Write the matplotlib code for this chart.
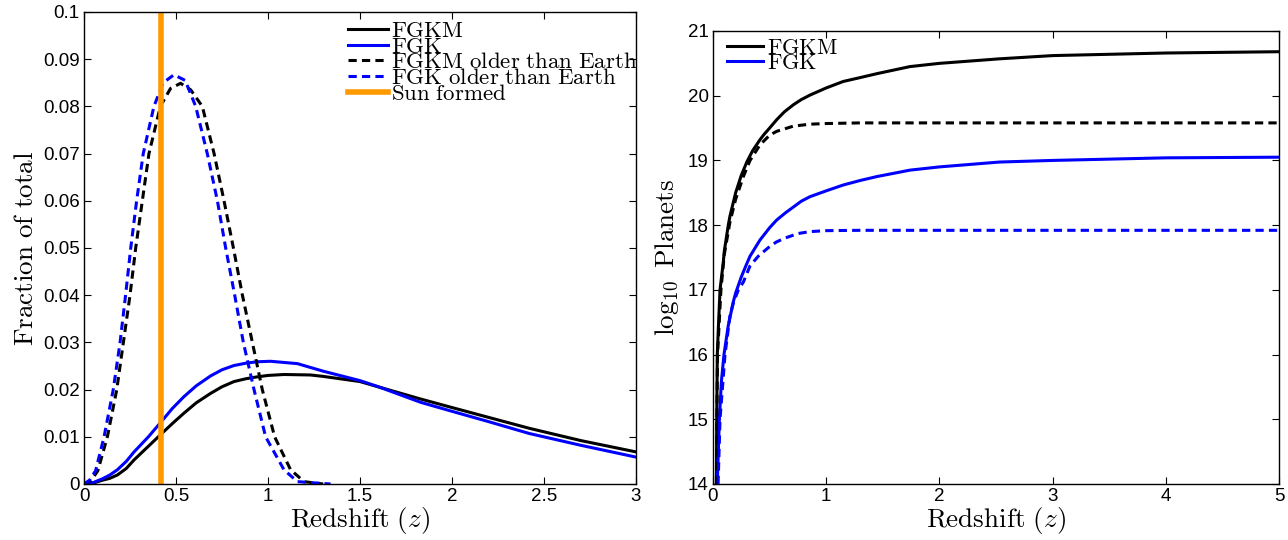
import matplotlib
matplotlib.use("Agg")
import matplotlib.pyplot as plt

plt.rcParams["mathtext.fontset"] = "cm"
plt.rcParams["font.family"] = ["Liberation Sans", "DejaVu Sans"]

# --- left panel: fraction of total vs redshift ---
z_fgkm = [0, 0.05, 0.1, 0.14, 0.181, 0.23, 0.272, 0.35, 0.42, 0.48, 0.543,
          0.61, 0.688, 0.75, 0.815, 0.88, 0.942, 1.0, 1.087, 1.23, 1.30, 1.5,
          1.83, 2.0, 2.2, 2.42, 2.7, 3.0]
f_fgkm = [0, 0.0002, 0.0008, 0.0012, 0.0019, 0.0033, 0.0051, 0.0080, 0.0106,
          0.0128, 0.0150, 0.0172, 0.0192, 0.0206, 0.0217, 0.0223, 0.0227,
          0.0230, 0.0232, 0.0231, 0.0228, 0.0217, 0.0180, 0.0162, 0.0141,
          0.0118, 0.0092, 0.0068]
z_fgk = [0, 0.05, 0.1, 0.14, 0.181, 0.23, 0.272, 0.35, 0.42, 0.48, 0.543,
         0.61, 0.688, 0.75, 0.815, 0.88, 0.942, 1.014, 1.16, 1.30, 1.5, 1.6,
         1.83, 2.0, 2.2, 2.42, 2.7, 3.0]
f_fgk = [0, 0.0003, 0.0011, 0.0019, 0.0030, 0.0048, 0.0068, 0.0100, 0.0132,
         0.0160, 0.0185, 0.0208, 0.0229, 0.0242, 0.0251, 0.0256, 0.0259,
         0.0260, 0.0255, 0.0239, 0.0219, 0.0206, 0.0173, 0.0154, 0.0132,
         0.0107, 0.0082, 0.0057]
z_fgkm_old = [0, 0.04, 0.075, 0.127, 0.178, 0.214, 0.25, 0.281, 0.317, 0.353,
              0.415, 0.47, 0.525, 0.58, 0.643, 0.707, 0.761, 0.812, 0.861,
              0.915, 0.969, 1.036, 1.123, 1.196, 1.3]
f_fgkm_old = [0, 0.0008, 0.0028, 0.010, 0.020, 0.030, 0.040, 0.050, 0.060,
              0.070, 0.080, 0.0838, 0.0849, 0.0835, 0.080, 0.070, 0.060,
              0.050, 0.040, 0.030, 0.020, 0.010, 0.003, 0.0005, 0]
z_fgk_old = [0, 0.03, 0.063, 0.109, 0.159, 0.196, 0.226, 0.254, 0.286, 0.322,
             0.38, 0.43, 0.489, 0.55, 0.607, 0.670, 0.725, 0.770, 0.819,
             0.866, 0.924, 0.987, 1.087, 1.16, 1.34]
f_fgk_old = [0, 0.0008, 0.0028, 0.010, 0.020, 0.030, 0.040, 0.050, 0.060,
             0.070, 0.080, 0.0850, 0.0867, 0.0855, 0.080, 0.070, 0.060,
             0.050, 0.040, 0.030, 0.020, 0.010, 0.003, 0.0005, 0]
z_sun = 0.42

# --- right panel: log10 planets vs redshift ---
zr_fgkm = [0.03, 0.033, 0.038, 0.047, 0.062, 0.091, 0.1, 0.135, 0.15, 0.2,
           0.25, 0.3, 0.35, 0.415, 0.45, 0.5, 0.563, 0.63, 0.71, 0.78, 0.857,
           1.0, 1.15, 1.3, 1.446, 1.74, 2.0, 2.53, 3.0, 4.0, 5.0]
n_fgkm = [14.0, 15.0, 16.0, 16.4, 17.0, 17.43, 17.6, 18.0, 18.14, 18.5, 18.77,
          18.98, 19.15, 19.32, 19.4, 19.5, 19.63, 19.75, 19.86, 19.94, 20.01,
          20.12, 20.22, 20.28, 20.34, 20.45, 20.5, 20.57, 20.62, 20.66, 20.68]
zr_fgkm_old = [0.03, 0.034, 0.04, 0.07, 0.1, 0.15, 0.2, 0.268, 0.327, 0.415,
               0.5, 0.563, 0.71, 0.857, 1.0, 1.3, 5.0]
n_fgkm_old = [14.0, 15.0, 16.0, 17.0, 17.55, 18.05, 18.4, 18.75, 19.0, 19.24,
              19.39, 19.45, 19.53, 19.56, 19.57, 19.58, 19.58]
zr_fgk = [0.038, 0.047, 0.056, 0.075, 0.097, 0.135, 0.18, 0.2, 0.25, 0.29,
          0.327, 0.415, 0.5, 0.563, 0.64, 0.71, 0.78, 0.857, 1.0, 1.15, 1.3,
          1.446, 1.74, 2.0, 2.53, 3.0, 4.0, 5.0]
n_fgk = [14.0, 14.5, 15.0, 15.6, 16.0, 16.45, 16.82, 16.95, 17.2, 17.37,
         17.52, 17.77, 17.96, 18.08, 18.19, 18.28, 18.37, 18.44, 18.53, 18.62,
         18.69, 18.75, 18.85, 18.9, 18.975, 19.0, 19.04, 19.05]
zr_fgk_old = [0.045, 0.062, 0.106, 0.15, 0.18, 0.224, 0.268, 0.327, 0.4, 0.487,
              0.56, 0.636, 0.75, 0.857, 1.0, 1.3, 5.0]
n_fgk_old = [14.0, 15.0, 16.0, 16.6, 16.8, 17.0, 17.12, 17.37, 17.52, 17.65,
             17.74, 17.8, 17.87, 17.9, 17.915, 17.92, 17.92]

W, H = 1288, 540
fig = plt.figure(figsize=(W / 100, H / 100), dpi=100)
ax1 = fig.add_axes([84 / W, 56 / H, (636 - 84) / W, (484 - 12) / H])
ax2 = fig.add_axes([713 / W, 56 / H, (1279 - 713) / W, (484 - 31) / H])

BLUE = "#0000ff"
lw = 2.2
dash = (0, (2.7, 1.7))
kw = dict(solid_joinstyle="round", dash_joinstyle="round")

ax1.plot(z_fgkm, f_fgkm, color="k", lw=lw, label=r"$\mathrm{FGKM}$", **kw)
ax1.plot(z_fgk, f_fgk, color=BLUE, lw=lw, label=r"$\mathrm{FGK}$", **kw)
ax1.plot(z_fgkm_old, f_fgkm_old, color="k", lw=lw, ls=dash,
         label=r"$\mathrm{FGKM\ older\ than\ Earth}$", **kw)
ax1.plot(z_fgk_old, f_fgk_old, color=BLUE, lw=lw, ls=dash,
         label=r"$\mathrm{FGK\ older\ than\ Earth}$", **kw)
ax1.axvline(z_sun, color="#ff9900", lw=4, label=r"$\mathrm{Sun\ formed}$")
ax1.set_xlim(0, 3)
ax1.set_ylim(0, 0.1)
ax1.set_xticks([0, 0.5, 1, 1.5, 2, 2.5, 3])
ax1.set_xticklabels(["0", "0.5", "1", "1.5", "2", "2.5", "3"])
yt = [i / 100 for i in range(11)]
ax1.set_yticks(yt)
ax1.set_yticklabels(["0"] + [f"{v:.2f}" for v in yt[1:-1]] + ["0.1"])
ax1.set_xlabel(r"$\mathrm{Redshift}\ (z)$", fontsize=19.5, labelpad=0)
ax1.set_ylabel(r"$\mathrm{Fraction\ of\ total}$", fontsize=19.5, labelpad=3)
ax1.legend(loc="upper right", bbox_to_anchor=(1.003, 0.985), frameon=False,
           fontsize=16.5, handlelength=1.75, handletextpad=0.15,
           labelspacing=-0.32, borderaxespad=0, borderpad=0)

ax2.plot(zr_fgkm, n_fgkm, color="k", lw=lw, label=r"$\mathrm{FGKM}$", **kw)
ax2.plot(zr_fgk, n_fgk, color=BLUE, lw=lw, label=r"$\mathrm{FGK}$", **kw)
ax2.plot(zr_fgkm_old, n_fgkm_old, color="k", lw=lw, ls=dash, **kw)
ax2.plot(zr_fgk_old, n_fgk_old, color=BLUE, lw=lw, ls=dash, **kw)
ax2.set_xlim(0, 5)
ax2.set_ylim(14, 21)
ax2.set_xticks(range(6))
ax2.set_yticks(range(14, 22))
ax2.set_xlabel(r"$\mathrm{Redshift}\ (z)$", fontsize=19.5, labelpad=0)
ax2.set_ylabel(r"$\log_{10}\ \mathrm{Planets}$", fontsize=19.5, labelpad=5)
ax2.legend(loc="upper left", bbox_to_anchor=(0.025, 0.985), frameon=False,
           fontsize=16, handlelength=1.6, handletextpad=0.2,
           labelspacing=-0.28, borderaxespad=0, borderpad=0)

for ax in (ax1, ax2):
    ax.tick_params(direction="in", top=True, right=True, labelsize=13.5,
                   length=5, width=0.8, pad=3)
    for s in ax.spines.values():
        s.set_linewidth(1.0)

fig.savefig("out.png", dpi=100)
